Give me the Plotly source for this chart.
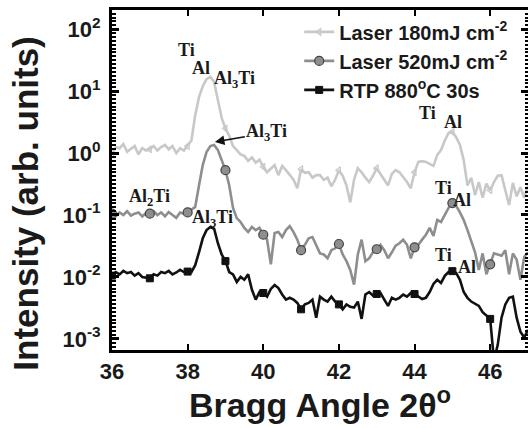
import numpy as np
import plotly.graph_objects as go

# ---------------- data ----------------
two_theta = np.round(np.arange(36.0, 47.0001, 0.1), 1)

laser180 = [
    0.95, 1.25, 1.2, 1.4, 1.05, 1.15, 1.3, 0.95, 1.2, 1.1,
    1.15, 1.3, 1.1, 1.25, 1.35, 1.15, 1.3, 1.0, 1.2, 1.1,
    1.3, 1.6, 4.1, 8.0, 12.0, 15.6, 17.0, 14.0, 7.2, 3.7,
    2.5, 1.9, 1.3, 1.1, 0.95, 0.9, 0.75, 0.85, 0.7, 0.78,
    0.6, 0.49, 0.57, 0.64, 0.44, 0.62, 0.53, 0.44, 0.37, 0.27,
    0.55, 0.48, 0.49, 0.40, 0.44, 0.44, 0.37, 0.40, 0.29, 0.37,
    0.53, 0.43, 0.30, 0.16, 0.37, 0.57, 0.49, 0.40, 0.34, 0.43,
    0.57, 0.46, 0.37, 0.30, 0.46, 0.53, 0.49, 0.41, 0.34, 0.27,
    0.49, 0.72, 0.74, 0.72, 0.66, 0.62, 0.93, 1.12, 1.6, 2.1,
    2.2, 1.8, 1.35, 0.77, 0.30, 0.40, 0.21, 0.34, 0.19, 0.32,
    0.25, 0.34, 0.43, 0.44, 0.25, 0.145, 0.33, 0.20, 0.28, 0.19, 0.30,
]

laser520 = [
    0.105, 0.095, 0.11, 0.1, 0.115, 0.098, 0.105, 0.11, 0.095, 0.108,
    0.105, 0.115, 0.1, 0.11, 0.095, 0.112, 0.1, 0.09, 0.11, 0.105,
    0.11, 0.12, 0.135, 0.30, 0.64, 1.04, 1.3, 1.35, 1.12, 0.77,
    0.53, 0.30, 0.13, 0.089, 0.077, 0.062, 0.053, 0.064, 0.057, 0.062,
    0.048, 0.04, 0.016, 0.051, 0.053, 0.044, 0.057, 0.066, 0.053, 0.04,
    0.027, 0.033, 0.042, 0.044, 0.033, 0.024, 0.023, 0.020, 0.027, 0.029,
    0.034, 0.023, 0.018, 0.013, 0.0075, 0.023, 0.04, 0.018, 0.020, 0.025,
    0.028, 0.033, 0.027, 0.020, 0.025, 0.032, 0.035, 0.04, 0.033, 0.020,
    0.030, 0.033, 0.04, 0.048, 0.062, 0.046, 0.083, 0.077, 0.10, 0.13,
    0.156, 0.14, 0.11, 0.083, 0.057, 0.037, 0.025, 0.013, 0.024, 0.011,
    0.016, 0.024, 0.023, 0.022, 0.027, 0.011, 0.024, 0.019, 0.009, 0.021, 0.025,
]

rtp880 = [
    0.0105, 0.012, 0.011, 0.0125, 0.0115, 0.012, 0.0105, 0.0115, 0.01, 0.0098,
    0.0095, 0.011, 0.0105, 0.012, 0.0115, 0.0125, 0.011, 0.0118, 0.013, 0.012,
    0.0122, 0.012, 0.0155, 0.025, 0.042, 0.057, 0.064, 0.06, 0.035, 0.023,
    0.018, 0.012, 0.011, 0.0083, 0.01, 0.009, 0.011, 0.0062, 0.0043, 0.0057,
    0.0055, 0.0048, 0.0064, 0.0074, 0.0066, 0.0052, 0.0043, 0.0046, 0.0043, 0.0038,
    0.003, 0.0036, 0.0038, 0.0043, 0.0022, 0.0048, 0.0043, 0.004, 0.0048, 0.004,
    0.0036, 0.003, 0.0036, 0.0033, 0.0032, 0.004, 0.0021, 0.0052, 0.0057, 0.005,
    0.0053, 0.0055, 0.0043, 0.0034, 0.0046, 0.0043, 0.0046, 0.0052, 0.0048, 0.0055,
    0.0053, 0.0048, 0.0044, 0.0046, 0.0057, 0.0077, 0.009, 0.008, 0.0104, 0.012,
    0.0124, 0.0116, 0.009, 0.0057, 0.0046, 0.004, 0.0037, 0.0034, 0.0027, 0.0024,
    0.0021, 0.00045, 0.0008, 0.0022, 0.0036, 0.0046, 0.0048, 0.0022, 0.0013, 0.00105, 0.0014,
]

series_names = ["Laser 180mJ cm<sup>-2</sup>", "Laser 520mJ cm<sup>-2</sup>", "RTP 880<sup>o</sup>C 30s"]
x_ticks = [36, 38, 40, 42, 44, 46]
y_ticks = [1e-3, 1e-2, 1e-1, 1e0, 1e1, 1e2]
y_ticktext = ["10<sup>-3</sup>", "10<sup>-2</sup>", "10<sup>-1</sup>", "10<sup>0</sup>", "10<sup>1</sup>", "10<sup>2</sup>"]

# ---------------- styling ----------------
C_LIGHT = "#c8c8c8"
C_MID = "#8e8e8e"
C_DARK = "#111111"
SANS = "Liberation Sans, Arial, sans-serif"
SERIF = "Liberation Serif, Times New Roman, serif"

styles = [
    dict(color=C_LIGHT, symbol="triangle-left-open", size=6, lc=C_LIGHT, lw=1.2),
    dict(color=C_MID, symbol="circle", size=9, lc="#444444", lw=1.2),
    dict(color=C_DARK, symbol="square", size=7, lc=C_DARK, lw=1),
]
data = [laser180, laser520, rtp880]

fig = go.Figure()
mark_idx = list(range(0, 101, 10))  # integer 2theta positions
for i, (ys, st, nm) in enumerate(zip(data, styles, series_names)):
    fig.add_trace(go.Scatter(x=two_theta, y=ys, mode="lines",
                             line=dict(color=st["color"], width=2.6),
                             showlegend=False, hoverinfo="skip"))
    fig.add_trace(go.Scatter(x=[two_theta[k] for k in mark_idx], y=[ys[k] for k in mark_idx],
                             mode="markers", yaxis="y2",
                             marker=dict(symbol=st["symbol"], size=st["size"], color=st["color"],
                                         line=dict(color=st["lc"], width=st["lw"])),
                             showlegend=False, hoverinfo="skip"))
    fig.add_trace(go.Scatter(x=[None], y=[None], mode="lines+markers", name=nm,
                             legendgroup="g%d" % i,
                             line=dict(color=st["color"], width=2.6),
                             marker=dict(symbol=st["symbol"], size=st["size"], color=st["color"],
                                         line=dict(color=st["lc"], width=st["lw"]))))

# minor ticks (dense, evenly spaced as in the reference)
minor_vals = [10 ** (d + k / 16) for d in range(-4, 3) for k in range(1, 16)]

yaxis_common = dict(type="log", range=[-3.18, 2.31], showgrid=False, zeroline=False)

fig.update_layout(
    width=528, height=428,
    margin=dict(l=112, r=0, t=10, b=78),
    paper_bgcolor="white", plot_bgcolor="white",
    xaxis=dict(range=[36, 47], tickvals=x_ticks, ticks="inside", ticklen=6, tickwidth=2,
               tickcolor="black", showline=True, linewidth=3, linecolor="black",
               mirror="ticks", showgrid=False, zeroline=False,
               tickfont=dict(family=SANS, size=22, color="#1a1a1a", weight="bold")),
    yaxis=dict(**yaxis_common, tickvals=y_ticks, ticktext=y_ticktext, ticks="inside",
               ticklen=7, tickwidth=2.5, tickcolor="black", showline=True, linewidth=3,
               linecolor="black", ticklabelstandoff=4,
               minor=dict(tickvals=minor_vals, ticks="inside", ticklen=4, tickwidth=1.5,
                          tickcolor="black", showgrid=False),
               tickfont=dict(family=SANS, size=22, color="#1a1a1a", weight="bold")),
    yaxis2=dict(**yaxis_common, overlaying="y", side="right", tickvals=y_ticks,
                ticks="inside", ticklen=7, tickwidth=2.5, tickcolor="black",
                showticklabels=False, showline=False,
                minor=dict(tickvals=minor_vals, ticks="inside", ticklen=3, tickwidth=1.5,
                           tickcolor="black", showgrid=False)),
    legend=dict(x=0.45, y=0.993, xanchor="left", yanchor="top", bgcolor="rgba(0,0,0,0)",
                font=dict(family=SANS, size=20, color="#1a1a1a", weight="bold"),
                tracegroupgap=0),
    showlegend=True,
)

ann_font = dict(family=SERIF, size=18, color="#1a1a1a", weight="bold")
labels = [
    ("Ti", 37.98, 1.66),
    ("Al", 38.35, 1.37),
    ("Al<sub>3</sub>Ti", 39.25, 1.18),
    ("Al<sub>2</sub>Ti", 37.0, -0.71),
    ("Al<sub>3</sub>Ti", 38.67, -1.05),
    ("Ti", 44.33, 0.645),
    ("Al", 45.02, 0.5),
    ("Ti", 44.76, -0.565),
    ("Al", 45.25, -0.76),
    ("Ti", 44.76, -1.645),
    ("Al", 45.39, -1.84),
]
for txt, ax_, ay_ in labels:
    fig.add_annotation(x=ax_, y=ay_, xref="x", yref="y", text=txt, showarrow=False,
                       font=ann_font)

# arrowed Al3Ti label pointing at the 520 mJ peak
fig.add_annotation(x=38.72, y=0.18, xref="x", yref="y", text="Al<sub>3</sub>Ti",
                   showarrow=True, arrowhead=2, arrowsize=1.2, arrowwidth=1.6,
                   arrowcolor="#111", ax=52, ay=-9, font=ann_font)

# axis titles
fig.add_annotation(x=-0.207, y=0.43, xref="paper", yref="paper", text="Intensity (arb. units)",
                   textangle=-90, showarrow=False, xanchor="center", yanchor="middle",
                   font=dict(family=SANS, size=35, color="#1a1a1a", weight="bold"))
fig.add_annotation(x=0.5, y=-0.155, xref="paper", yref="paper",
                   text="Bragg Angle 2\u03b8<sup>o</sup>", showarrow=False,
                   xanchor="center", yanchor="middle",
                   font=dict(family=SANS, size=34, color="#1a1a1a", weight="bold"))

fig.write_html("out.html")
